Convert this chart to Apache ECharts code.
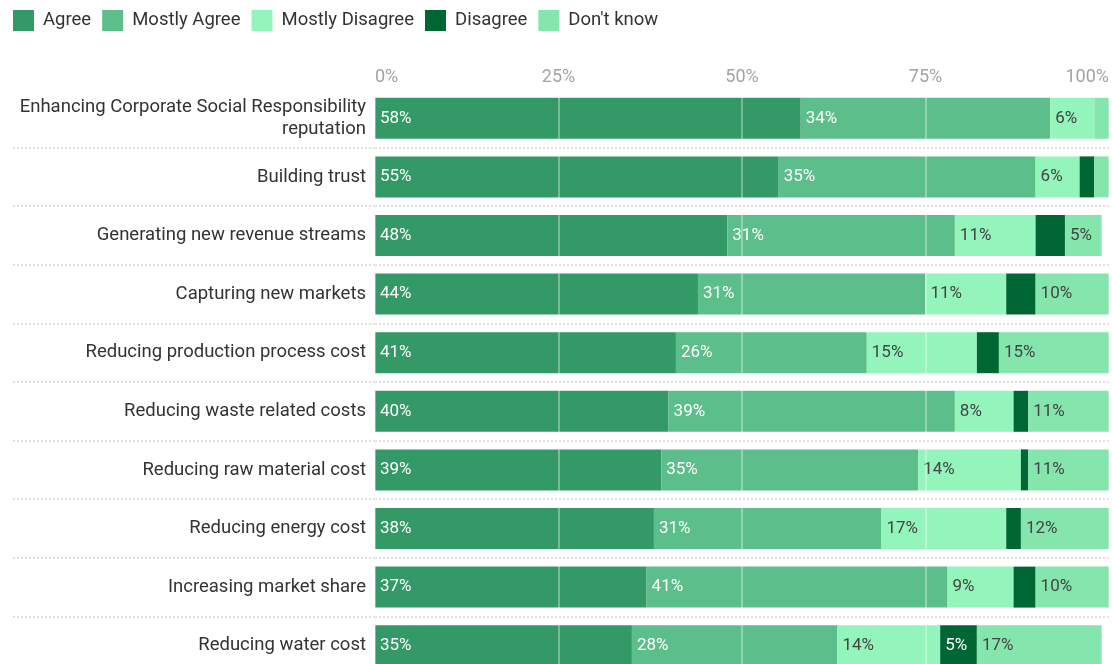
<!DOCTYPE html>
<html>
<head>
<meta charset="utf-8">
<script src="https://cdn.jsdelivr.net/npm/echarts@6/dist/echarts.min.js"></script>
<style>
  html, body { margin: 0; padding: 0; background: #fff; overflow: hidden; }
  /* the chart runs a little past the bottom of the window, last row is cut */
  #chart { width: 1112px; height: 675px; }
</style>
</head>
<body>
<div id="chart"></div>
<script>
// Survey: perceived benefits of circular economy practices (share of respondents)
const categories = [
  'Enhancing Corporate Social Responsibility\nreputation',
  'Building trust',
  'Generating new revenue streams',
  'Capturing new markets',
  'Reducing production process cost',
  'Reducing waste related costs',
  'Reducing raw material cost',
  'Reducing energy cost',
  'Increasing market share',
  'Reducing water cost'
];
const agree           = [58, 55, 48, 44, 41, 40, 39, 38, 37, 35];
const mostlyAgree     = [34, 35, 31, 31, 26, 39, 35, 31, 41, 28];
const mostlyDisagree  = [6, 6, 11, 11, 15, 8, 14, 17, 9, 14];
const disagree        = [0, 2, 4, 4, 3, 2, 1, 2, 3, 5];
const dontKnow        = [2, 2, 5, 10, 15, 11, 11, 12, 10, 17];
const xTicks = [0, 25, 50, 75, 100];

const FONT = 'Roboto, "Noto Sans", sans-serif';
const SEP = { color: '#e0e0e0', type: 'dotted', width: 2 };

function makeSeries(name, data, color, labelColor) {
  return {
    name: name,
    type: 'bar',
    stack: 'total',
    data: data,
    barWidth: 41,
    itemStyle: { color: color },
    label: {
      show: true,
      position: 'insideLeft',
      distance: 5,
      color: labelColor,
      fontFamily: FONT,
      fontSize: 17,
      formatter: p => (p.value >= 5 ? p.value + '%' : '')
    },
    emphasis: { disabled: true }
  };
}

const chart = echarts.init(document.getElementById('chart'), null, { renderer: 'canvas' });
chart.setOption({
  animation: false,
  textStyle: { fontFamily: FONT },
  legend: {
    left: 8,
    top: 5,
    icon: 'rect',
    itemWidth: 21,
    itemHeight: 21,
    itemGap: 11,
    textStyle: { fontSize: 18.5, color: '#333', fontFamily: FONT, padding: [0, 0, 0, 4] },
    data: ['Agree', 'Mostly Agree', 'Mostly Disagree', 'Disagree', "Don't know"]
  },
  grid: { left: 375, right: 2, top: 89, bottom: 0, containLabel: false },
  xAxis: {
    type: 'value',
    position: 'top',
    min: xTicks[0],
    max: xTicks[xTicks.length - 1],
    interval: xTicks[1] - xTicks[0],
    z: 10,
    axisLine: { show: false },
    axisTick: { show: false },
    axisLabel: {
      formatter: '{value}%',
      color: '#a3a3a3',
      fontSize: 18,
      fontFamily: FONT,
      margin: 3,
      alignMinLabel: 'left',
      alignMaxLabel: 'right'
    },
    splitLine: { show: true, lineStyle: { color: 'rgba(255,255,255,0.45)', width: 1.5 } }
  },
  yAxis: {
    type: 'category',
    inverse: true,
    data: categories,
    axisLine: { show: false },
    // separators only between rows, reaching into the label column
    axisTick: { show: true, length: 363, interval: i => i > 0, lineStyle: SEP },
    splitLine: { show: true, interval: i => i > 0, lineStyle: SEP },
    axisLabel: {
      color: '#333',
      fontSize: 18.5,
      fontFamily: FONT,
      margin: 9,
      lineHeight: 22,
      align: 'right'
    }
  },
  series: [
    makeSeries('Agree', agree, '#339966', '#ffffff'),
    makeSeries('Mostly Agree', mostlyAgree, '#5cbe8a', '#ffffff'),
    makeSeries('Mostly Disagree', mostlyDisagree, '#93f4bc', '#444444'),
    makeSeries('Disagree', disagree, '#006633', '#ffffff'),
    makeSeries("Don't know", dontKnow, '#84e6ad', '#444444')
  ]
});
</script>
</body>
</html>
